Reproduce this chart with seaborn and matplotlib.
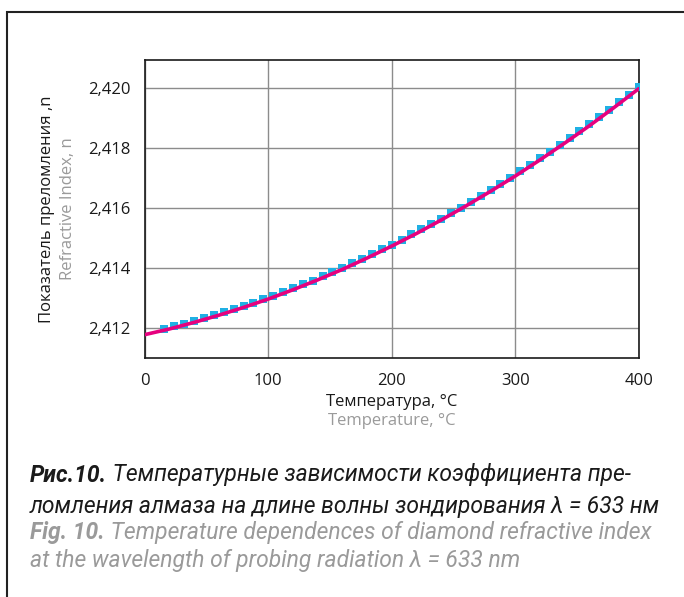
import matplotlib
matplotlib.use("Agg")
import matplotlib.pyplot as plt
import seaborn as sns
import pandas as pd
from matplotlib.patches import Rectangle

# ---------------- data ----------------
temp_fit = [0, 20, 40, 60, 80, 100, 120, 140, 160, 180, 200,
            220, 240, 260, 280, 300, 320, 340, 360, 380, 400]
n_fit = [2.41177, 2.41196, 2.41218, 2.41242, 2.41268, 2.41296, 2.41327,
         2.41360, 2.41395, 2.41433, 2.41473, 2.41515, 2.41560, 2.41607,
         2.41656, 2.41707, 2.41761, 2.41817, 2.41875, 2.41936, 2.41999]

temp_meas = [16, 24, 32, 40, 48, 56, 64, 72, 80, 88, 96, 104, 112, 120,
             128, 136, 144, 152, 160, 168, 176, 184, 192, 200, 208, 216,
             224, 232, 240, 248, 256, 264, 272, 280, 288, 296, 304, 312,
             320, 328, 336, 344, 352, 360, 368, 376, 384, 392, 400]
n_meas = [2.41197, 2.41205, 2.41214, 2.41223, 2.41232, 2.41242, 2.41252,
          2.41262, 2.41273, 2.41284, 2.41295, 2.41307, 2.41320, 2.41332,
          2.41345, 2.41358, 2.41372, 2.41386, 2.41400, 2.41415, 2.41430,
          2.41446, 2.41462, 2.41478, 2.41495, 2.41512, 2.41529, 2.41547,
          2.41565, 2.41583, 2.41602, 2.41621, 2.41641, 2.41661, 2.41681,
          2.41702, 2.41723, 2.41744, 2.41766, 2.41788, 2.41810, 2.41833,
          2.41857, 2.41880, 2.41904, 2.41928, 2.41953, 2.41978, 2.42004]

x_ticks = [0, 100, 200, 300, 400]
x_tick_labels = ["0", "100", "200", "300", "400"]
y_ticks = [2.412, 2.414, 2.416, 2.418, 2.420]
y_tick_labels = ["2,412", "2,414", "2,416", "2,418", "2,420"]

ylabel_ru = "Показатель преломления ,n"
ylabel_en = "Refractive Index, n"
xlabel_ru = "Температура, °C"
xlabel_en = "Temperature, °C"
cap1_bold = "Рис.10."
cap1_rest = " Температурные зависимости коэффициента пре-"
cap2 = "ломления алмаза на длине волны зондирования λ = 633 нм"
cap3_bold = "Fig. 10."
cap3_rest = " Temperature dependences of diamond refractive index"
cap4 = "at the wavelength of probing radiation λ = 633 nm"

# ---------------- style ----------------
sns.set_style("white")
plt.rcParams["font.family"] = ["Open Sans", "DejaVu Sans"]

BLACK = "#1a1a1a"
GRAY = "#9a9a9a"
CYAN = "#1fb0e4"
MAGENTA = "#e6007e"

W, H = 684, 597
fig = plt.figure(figsize=(W / 100, H / 100), dpi=100)
ax = fig.add_axes([144.7 / W, 1 - 357.7 / H, (638.7 - 144.7) / W, (357.7 - 60) / H])

df_meas = pd.DataFrame({"T": temp_meas, "n": n_meas})
df_fit = pd.DataFrame({"T": temp_fit, "n": n_fit})

sns.scatterplot(data=df_meas, x="T", y="n", ax=ax, marker="s", s=32,
                color=CYAN, linewidth=0, zorder=3, legend=False)
sns.lineplot(data=df_fit, x="T", y="n", ax=ax, color=MAGENTA, linewidth=2.6,
             zorder=4, legend=False)

ax.set_xlim(0, 400)
ax.set_ylim(2.411, 2.42095)
ax.set_xticks(x_ticks)
ax.set_xticklabels(x_tick_labels)
ax.set_yticks(y_ticks)
ax.set_yticklabels(y_tick_labels)
ax.tick_params(direction="in", length=6, width=1.2, color=BLACK,
               labelsize=12, labelcolor=BLACK, pad=10)
ax.tick_params(axis="x", pad=11)
ax.grid(True, color="#8c8c8c", linewidth=1.0)
ax.set_axisbelow(True)
for sp in ax.spines.values():
    sp.set_color(BLACK)
    sp.set_linewidth(1.2)
ax.set_xlabel("")
ax.set_ylabel("")

# axis titles (two languages)
fig.text(47 / W, 1 - 208.9 / H, ylabel_ru, rotation=90, ha="center", va="center",
         fontsize=12, color=BLACK)
fig.text(68 / W, 1 - 208.9 / H, ylabel_en, rotation=90, ha="center", va="center",
         fontsize=12, color=GRAY)
fig.text(391.7 / W, 1 - 402 / H, xlabel_ru, ha="center", va="center",
         fontsize=12, color=BLACK)
fig.text(391.7 / W, 1 - 421 / H, xlabel_en, ha="center", va="center",
         fontsize=12, color=GRAY)

# caption
cap_font = ["Roboto", "DejaVu Sans"]
x0 = 30 / W
fig.canvas.draw()
renderer = fig.canvas.get_renderer()


def width_at(txt, size, weight="normal"):
    p = fig.text(0, 0, txt, fontsize=size, style="italic", family=cap_font,
                 fontweight=weight)
    w = p.get_window_extent(renderer=renderer).width
    p.remove()
    return w


# average scale so the caption lines span about the reference widths
w1 = width_at(cap1_bold, 10, "bold") + width_at(cap1_rest, 10)
w2 = width_at(cap2, 10)
w3 = width_at(cap3_bold, 10, "bold") + width_at(cap3_rest, 10)
w4 = width_at(cap4, 10)
ratios = [582 / w1, 615 / w2, 627 / w3, 502 / w4]
cap_size = 10 * sum(ratios) / len(ratios)


def two_part(y_px, bold, rest, color):
    t1 = fig.text(x0, 1 - y_px / H, bold, ha="left", va="center", fontsize=cap_size,
                  fontweight="bold", style="italic", color=color, family=cap_font)
    bb = t1.get_window_extent(renderer=renderer)
    fig.text(bb.x1 / W, 1 - y_px / H, rest, ha="left", va="center",
             fontsize=cap_size, style="italic", color=color, family=cap_font)


two_part(475, cap1_bold, cap1_rest, BLACK)
fig.text(x0, 1 - 507 / H, cap2, ha="left", va="center", fontsize=cap_size,
         style="italic", color=BLACK, family=cap_font)
two_part(533, cap3_bold, cap3_rest, GRAY)
fig.text(x0, 1 - 560 / H, cap4, ha="left", va="center", fontsize=cap_size,
         style="italic", color=GRAY, family=cap_font)

# outer frame (left and top edges visible)
fig.patches.append(Rectangle((7 / W, -0.1), 1.2, 1 - 12 / H + 0.1,
                             transform=fig.transFigure, fill=False,
                             edgecolor="#222222", linewidth=1.5))

fig.savefig("out.png", dpi=100)
